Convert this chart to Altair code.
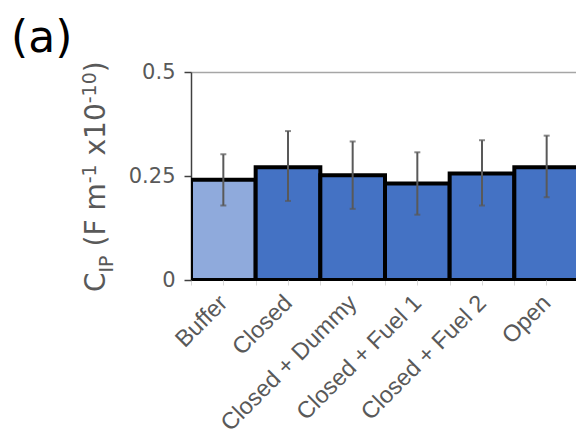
import altair as alt
import pandas as pd

categories = ["Buffer", "Closed", "Closed + Dummy", "Closed + Fuel 1", "Closed + Fuel 2", "Open"]
means = [0.241, 0.271, 0.252, 0.232, 0.256, 0.271]
err_low = [0.179, 0.190, 0.171, 0.157, 0.179, 0.199]
err_high = [0.302, 0.358, 0.333, 0.307, 0.336, 0.347]
fills = ["#8FAADC", "#4472C4", "#4472C4", "#4472C4", "#4472C4", "#4472C4"]
y_ticks = [0, 0.25, 0.5]

df = pd.DataFrame({"cat": categories, "mean": means, "lo": err_low, "hi": err_high, "fill": fills})

W, H = 385, 208
GREY = "#595959"

xscale = alt.Scale(domain=categories, paddingInner=0, paddingOuter=0, range=[0, 388])
yscale = alt.Scale(domain=[0, 0.5], nice=False, zero=True)

yaxis = alt.Axis(values=y_ticks, labelExpr="'' + datum.value", title=None, grid=False,
                 labelFont="DejaVu Sans", labelFontSize=21, labelColor=GREY,
                 domainColor="#404040", domainWidth=1.5, tickColor="#404040", tickWidth=1.5,
                 tickSize=7, labelPadding=9)

bars = alt.Chart(df).mark_bar(stroke="black", strokeWidth=4, clip=True).encode(
    x=alt.X("cat:N", scale=xscale, sort=categories, title=None,
            axis=alt.Axis(orient="bottom", labelAngle=-45, labelAlign="right", labelBaseline="middle",
                          labelFont="Liberation Sans", labelFontSize=23.5, labelColor=GREY,
                          tickBand="extent", tickColor="#D9D9D9", tickSize=5, tickWidth=1,
                          labelPadding=14, domainColor="black", domainWidth=1, labelLimit=400)),
    y=alt.Y("mean:Q", scale=yscale, axis=yaxis),
    fill=alt.Fill("fill:N", scale=None),
)

rules = alt.Chart(df).mark_rule(color=GREY, strokeWidth=2).encode(
    x=alt.X("cat:N", scale=xscale, sort=categories, title=None,
            axis=alt.Axis(orient="top", ticks=False, labels=False, domainColor="#A6A6A6", domainWidth=1.5)),
    y=alt.Y("lo:Q", scale=yscale, axis=yaxis),
    y2="hi:Q",
)

caps = alt.Chart(df).transform_fold(["lo", "hi"], as_=["k", "v"]).mark_tick(
    color=GREY, thickness=2, size=6).encode(
    x=alt.X("cat:N", scale=xscale, sort=categories, title=None,
            axis=alt.Axis(orient="bottom", labels=False, domain=False, tickColor="#D9D9D9",
                          tickSize=5, tickWidth=1)),
    y=alt.Y("v:Q", scale=yscale, axis=yaxis),
)

one = pd.DataFrame({"d": [0]})


def txt(s, x, y, size, color=GREY, angle=270, font="DejaVu Sans"):
    return alt.Chart(one).mark_text(text=s, align="left", baseline="alphabetic", angle=angle,
                                    font=font, fontSize=size, color=color).encode(
        x=alt.value(x), y=alt.value(y))


MAIN_X, SUB_X, SUP_X = -86, -78, -95
title_parts = [
    txt("C", MAIN_X, 220, 28),
    txt("IP", SUB_X, 200.5, 19),
    txt("(F m", MAIN_X, 174.5, 28),
    txt("-1", SUP_X, 111.3, 19),
    txt("x10", MAIN_X, 83.5, 28),
    txt("-10", SUP_X, 31.3, 19),
    txt(")", MAIN_X, 0.3, 28),
]
panel = txt("(a)", -180, -20, 44, color="black", angle=0)

chart = alt.layer(bars, rules, caps, *title_parts, panel).resolve_axis(x="independent").properties(
    width=W, height=H,
    autosize=alt.AutoSizeParams(type="none"),
    padding={"left": 191, "top": 72, "right": 0, "bottom": 156},
).configure_view(stroke=None)

chart.save("out.html", embed_options={"renderer": "svg", "actions": False})
